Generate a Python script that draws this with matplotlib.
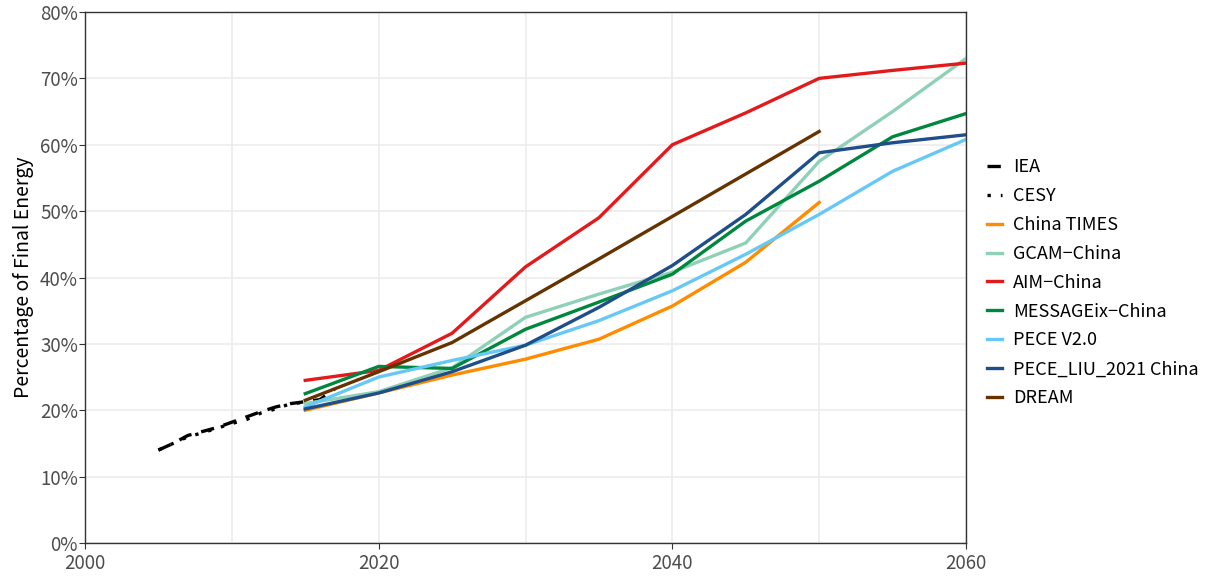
import matplotlib
matplotlib.use('Agg')
import matplotlib.pyplot as plt
from matplotlib.ticker import MultipleLocator, FuncFormatter

plt.rcParams['font.family'] = ['Noto Sans CJK JP', 'DejaVu Sans']

# historical data
hist_years = [2005, 2006, 2007, 2008, 2009, 2010, 2011, 2012, 2013, 2014, 2015, 2016, 2017]
iea = [14.0, 15.0, 16.2, 16.8, 17.4, 18.2, 19.0, 19.8, 20.5, 21.0, 21.3, 21.6, 23.2]
cesy = [14.0, 15.0, 16.0, 16.6, 17.3, 18.0, 18.6, 19.6, 20.2, 21.0, 21.2, 21.0]
cesy_years = hist_years[:12]

# model projections
years_2050 = [2015, 2020, 2025, 2030, 2035, 2040, 2045, 2050]
years_2060 = [2015, 2020, 2025, 2030, 2035, 2040, 2045, 2050, 2055, 2060]

china_times = [20.0, 22.6, 25.3, 27.7, 30.7, 35.7, 42.3, 51.3]
gcam = [21.0, 22.8, 26.4, 34.0, 37.5, 40.8, 45.2, 57.5, 65.0, 73.0]
aim = [24.5, 26.0, 31.6, 41.6, 49.0, 60.0, 64.8, 70.0, 71.2, 72.3]
message = [22.5, 26.6, 26.3, 32.2, 36.3, 40.5, 48.5, 54.5, 61.2, 64.7]
pece_v2 = [20.5, 25.0, 27.5, 29.8, 33.5, 38.0, 43.5, 49.5, 56.0, 60.8]
pece_liu = [20.2, 22.6, 25.8, 29.8, 35.5, 41.8, 49.5, 58.8, 60.3, 61.5]
dream = [21.5, 25.8, 30.2, 36.5, 42.8, 49.2, 55.6, 62.0]

fig = plt.figure(figsize=(12.15, 5.76), dpi=100)
ax = fig.add_axes([85 / 1215, 33 / 576, 881 / 1215, 531 / 576])

lw = 2.4
ax.plot(hist_years, iea, color='black', lw=lw, linestyle=(0, (4, 3)), label='IEA')
ax.plot(cesy_years, cesy, color='black', lw=lw, linestyle=(0, (1, 3)), label='CESY')
ax.plot(years_2050, china_times, color='#ff8c00', lw=lw, label='China TIMES')
ax.plot(years_2060, gcam, color='#8ed1b7', lw=lw, label='GCAM\u2212China')
ax.plot(years_2060, aim, color='#e31a1c', lw=lw, label='AIM\u2212China')
ax.plot(years_2060, message, color='#00873e', lw=lw, label='MESSAGEix\u2212China')
ax.plot(years_2060, pece_v2, color='#66c8f5', lw=lw, label='PECE V2.0')
ax.plot(years_2060, pece_liu, color='#1f4e8a', lw=lw, label='PECE_LIU_2021 China')
ax.plot(years_2050, dream, color='#663300', lw=lw, label='DREAM')

ax.set_xlim(2000, 2060)
ax.set_ylim(0, 80)
ax.xaxis.set_major_locator(MultipleLocator(20))
ax.xaxis.set_minor_locator(MultipleLocator(10))
ax.yaxis.set_major_locator(MultipleLocator(10))
ax.yaxis.set_major_formatter(FuncFormatter(lambda v, p: f'{v:.0f}%'))
ax.grid(True, which='both', color='#ebebeb', lw=1.1)
ax.set_axisbelow(True)
for s in ax.spines.values():
    s.set_color('#333333')
    s.set_linewidth(1.0)
ax.tick_params(axis='both', which='major', direction='out', length=4, color='#333333',
               labelsize=13.5, labelcolor='#4d4d4d', pad=1)
ax.tick_params(axis='x', which='major', pad=3)
ax.tick_params(axis='both', which='minor', length=0)
ax.set_ylabel('Percentage of Final Energy', fontsize=14, color='black', labelpad=4)

leg = ax.legend(loc='center left', bbox_to_anchor=(1.005, 0.49), frameon=False,
                fontsize=13, handlelength=0.85, handletextpad=0.6, labelspacing=0.6)

fig.savefig('out.png', dpi=100)
